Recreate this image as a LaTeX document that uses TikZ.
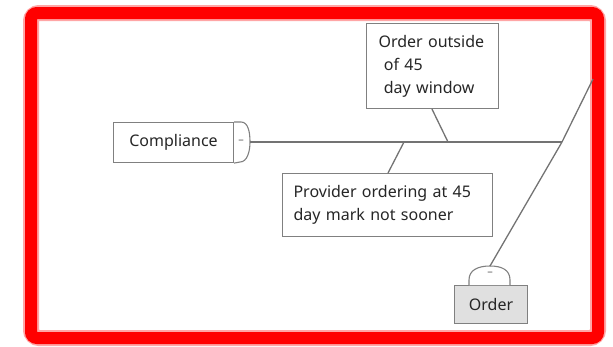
\documentclass[tikz,border=0pt]{standalone}
\usepackage{fontspec}
\setmainfont{Noto Sans}
\begin{document}
\begin{tikzpicture}[x=1pt,y=-1pt,
  cause/.style={draw=black!50, line width=1.1pt, fill=white, inner sep=0pt,
    font=\fontsize{16}{23}\selectfont, text=black!85},
  bone/.style={draw=black!55, line width=1.3pt},
  tab/.style={draw=black!50, line width=1.1pt, fill=white},
  minus/.style={text=black!60, font=\fontsize{11}{11}\selectfont, inner sep=0pt}]
\useasboundingbox (0,0) rectangle (613,346);
% red frame with a faint halo
\draw[red!35, line width=16pt, rounded corners=8pt] (31,13) rectangle (598,338);
\draw[red, line width=12pt, rounded corners=6pt] (31,13) rectangle (598,338);

% head of the category: Compliance
\node[cause, minimum width=120pt, minimum height=40pt, anchor=north west] (comp) at (113,122) {Compliance};
\draw[tab] (comp.north east) -- ++(7,0) .. controls +(7,0) and (250,132) .. (250,142)
  coordinate (comptip) .. controls (250,152) and (247,162) .. (240,162) -- (comp.south east);
\node[minus] (compmin) at (241,142) {\textendash};

% category Order
\node[cause, fill=black!12, minimum width=73pt, minimum height=38pt, anchor=north west] (order) at (454,285) {Order};
\draw[tab] (469,285) -- (469,280) .. controls (469,270) and (478,266) .. (490,266)
  coordinate (ordertip) .. controls (502,266) and (510,270) .. (510,280) -- (510,285);
\node[minus] (ordmin) at (490,274) {\textendash};

% causes
\node[cause, minimum width=132pt, minimum height=85pt, anchor=north west, align=left,
  text width=108pt] (outside) at (366,23) {Order outside\\\ of 45\\\ day window};
\node[cause, minimum width=210pt, minimum height=63pt, anchor=north west, align=left,
  text width=188pt] (provider) at (282,173) {Provider ordering at 45\\day mark not sooner};

% bones
\coordinate (join) at (562,142);
\coordinate (topend) at (593,79);
\coordinate (jout) at (448,142);
\coordinate (jprov) at (404,142);
\draw[bone] (comptip) -- (join);
\draw[bone] (topend) -- (join) -- (ordertip);
\draw[bone] (outside.south west) ++(66,0) coordinate (outfoot) -- (jout);
\draw[bone] (provider.north west) ++(106,0) coordinate (provtop) -- (jprov);
\end{tikzpicture}
\end{document}
